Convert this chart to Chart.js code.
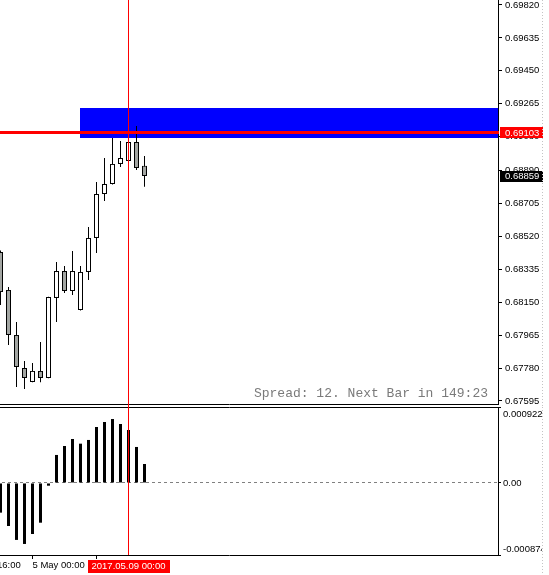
<!DOCTYPE html>
<html>
<head>
<meta charset="utf-8">
<script src="https://cdn.jsdelivr.net/npm/chart.js@4.4.1/dist/chart.umd.min.js"></script>
<style>
    html, body { margin: 0; padding: 0; background: #fff; overflow: hidden; }
    body { width: 549px; height: 575px; position: relative; }
    /* canvases start 40px left of the page so the cut-off time label can be a real tick */
    #priceChart { position: absolute; left: -40px; top: 0; }
    #oscChart { position: absolute; left: -40px; top: 407px; }
</style>
</head>
<body>
<canvas id="priceChart" width="589" height="407"></canvas>
<canvas id="oscChart" width="589" height="168"></canvas>
<script>
// H4 bars, index 0 = first visible bar
const candleIndex = [0, 1, 2, 3, 4, 5, 6, 7, 8, 9, 10, 11, 12, 13, 14, 15, 16, 17, 18];
const openPrices  = [0.68432, 0.68219, 0.67966, 0.67780, 0.67702, 0.67764, 0.67724, 0.68174, 0.68325, 0.68213,
                     0.68106, 0.68320, 0.68511, 0.68758, 0.68814, 0.68927, 0.68944, 0.69050, 0.68916];
const highPrices  = [0.68440, 0.68236, 0.68039, 0.67820, 0.67809, 0.67927, 0.68180, 0.68376, 0.68354, 0.68438,
                     0.68354, 0.68573, 0.68826, 0.68960, 0.69073, 0.69056, 0.69052, 0.69140, 0.68972];
const lowPrices   = [0.68134, 0.67910, 0.67674, 0.67662, 0.67700, 0.67700, 0.67722, 0.68039, 0.68202, 0.68191,
                     0.68104, 0.68275, 0.68427, 0.68719, 0.68812, 0.68910, 0.68942, 0.68893, 0.68798];
const closePrices = [0.68207, 0.67966, 0.67786, 0.67724, 0.67764, 0.67724, 0.68179, 0.68325, 0.68213, 0.68325,
                     0.68320, 0.68511, 0.68758, 0.68814, 0.68927, 0.68960, 0.69050, 0.68904, 0.68859];

// histogram in the lower window
const oscValues = [-0.000360, -0.000522, -0.000691, -0.000740, -0.000619, -0.000482, -0.000033,
                   0.000340, 0.000449, 0.000534, 0.000477, 0.000522, 0.000679, 0.000740, 0.000776,
                   0.000716, 0.000643, 0.000437, 0.000230];

const priceTicks = [0.67595, 0.67780, 0.67965, 0.68150, 0.68335, 0.68520, 0.68705,
                    0.68890, 0.69080, 0.69265, 0.69450, 0.69635, 0.69820];
const oscTicks = [-0.000874, 0, 0.000922];
const oscTickLabels = ['-0.000874', '0.00', '0.000922'];
const timeTickIndex = [-4, 4, 12];
const timeTickLabels = ['3 May 16:00', '5 May 00:00', '8 May 08:00'];

const priceMin = 0.67578, priceMax = 0.69848;
const oscMin = -0.000874, oscMax = 0.000922;
const xMin = -5.0625, xMax = 62.1875;

const zoneStart = 10, zoneHigh = 0.69241, zoneLow = 0.69073;   // blue rectangle
const lineLevel = 0.69103;                                       // red horizontal line
const bidPrice = 0.68859;
const crosshairIndex = 16;
const crosshairLabel = '2017.05.09 00:00';
const infoText = 'Spread: 12. Next Bar in 149:23';

const axisFamily = '"Liberation Sans", Arial, sans-serif';
const axisFont = '9.5px ' + axisFamily;

Chart.defaults.color = '#000';
Chart.defaults.font.family = axisFamily;
Chart.defaults.font.size = 9.5;

function drawDottedEdge(chart) {
    const ctx = chart.ctx;
    const ex = chart.scales.y.left + 44.5;
    ctx.save();
    ctx.strokeStyle = '#c4c4c4';
    ctx.setLineDash([1, 2]);
    ctx.beginPath();
    ctx.moveTo(ex, 0);
    ctx.lineTo(ex, chart.height);
    ctx.stroke();
    ctx.restore();
}

function drawCrosshair(chart, bottom) {
    const ctx = chart.ctx;
    const cx = Math.floor(chart.scales.x.getPixelForValue(crosshairIndex)) + 0.5;
    ctx.save();
    ctx.strokeStyle = '#ff0000';
    ctx.lineWidth = 1;
    ctx.beginPath();
    ctx.moveTo(cx, 0);
    ctx.lineTo(cx, bottom);
    ctx.stroke();
    ctx.restore();
}

function priceBox(chart, value, color) {
    const {ctx, scales: {y}} = chart;
    const py = y.getPixelForValue(value);
    ctx.save();
    ctx.fillStyle = color;
    ctx.fillRect(y.left + 2, Math.round(py - 5.5), 43, 11);
    ctx.fillStyle = '#fff';
    ctx.font = axisFont;
    ctx.textAlign = 'left';
    ctx.textBaseline = 'middle';
    ctx.fillText(value.toFixed(5), y.left + 7, py + 0.5);
    ctx.restore();
}

// 1. Price window
const priceOverlay = {
    id: 'priceOverlay',
    beforeDatasetsDraw(chart) {
        const {ctx, chartArea, scales: {x, y}} = chart;
        const left = Math.floor(x.getPixelForValue(zoneStart));
        const top = Math.round(y.getPixelForValue(zoneHigh));
        const bottom = Math.round(y.getPixelForValue(zoneLow));
        ctx.save();
        ctx.fillStyle = '#0000ff';
        ctx.fillRect(left, top, chartArea.right - left, bottom - top);
        ctx.restore();
    },
    afterDraw(chart) {
        const {ctx, chartArea, scales: {y}} = chart;
        ctx.save();
        // red level line
        ctx.fillStyle = '#ff0000';
        ctx.fillRect(chartArea.left, Math.round(y.getPixelForValue(lineLevel) - 1.5), chartArea.right - chartArea.left + 1, 3);
        // window bottom border
        ctx.strokeStyle = '#000';
        ctx.lineWidth = 1;
        ctx.beginPath();
        ctx.moveTo(chartArea.left, chartArea.bottom + 0.5);
        ctx.lineTo(chartArea.right + 1, chartArea.bottom + 0.5);
        ctx.stroke();
        // spread info
        ctx.font = '13px "Liberation Mono", "Courier New", monospace';
        ctx.fillStyle = '#7a7a7a';
        ctx.textAlign = 'right';
        ctx.textBaseline = 'middle';
        ctx.fillText(infoText, chartArea.right - 10, chartArea.bottom - 10);
        ctx.restore();

        priceBox(chart, lineLevel, '#ff0000');
        priceBox(chart, bidPrice, '#000000');
        drawCrosshair(chart, chart.height);
        drawDottedEdge(chart);
    }
};

new Chart(document.getElementById('priceChart'), {
    type: 'bar',
    data: {
        datasets: [
            {
                label: 'body',
                data: candleIndex.map(i => ({x: i, y: [openPrices[i], closePrices[i]]})),
                backgroundColor: candleIndex.map(i => closePrices[i] >= openPrices[i] ? '#ffffff' : '#a3a6a3'),
                borderColor: '#000',
                borderWidth: 1,
                borderSkipped: false,
                barThickness: 5,
                grouped: false,
                inflateAmount: 0
            },
            {
                label: 'wick',
                data: candleIndex.map(i => ({x: i, y: [lowPrices[i], highPrices[i]]})),
                backgroundColor: '#000',
                borderWidth: 0,
                barThickness: 1,
                grouped: false,
                inflateAmount: 0
            }
        ]
    },
    options: {
        responsive: false,
        animation: false,
        events: [],
        layout: { padding: { left: 0, right: 0, top: 0, bottom: 3 } },
        plugins: { legend: { display: false }, tooltip: { enabled: false } },
        scales: {
            x: {
                type: 'linear',
                display: false,
                offset: false,
                min: xMin,
                max: xMax,
                grid: { offset: false }
            },
            y: {
                type: 'linear',
                position: 'right',
                min: priceMin,
                max: priceMax,
                afterBuildTicks: (scale) => { scale.ticks = priceTicks.map(v => ({value: v})); },
                afterFit: (scale) => { scale.width = 51; scale.paddingTop = 0; scale.paddingBottom = 0; },
                ticks: {
                    autoSkip: false,
                    padding: 3,
                    color: '#000',
                    font: { size: 9.5 },
                    callback: (value) => value.toFixed(5)
                },
                grid: { drawOnChartArea: false, drawTicks: true, tickLength: 4, tickColor: '#000' },
                border: { display: true, color: '#000', width: 1 }
            }
        }
    },
    plugins: [priceOverlay]
});

// 2. Indicator window
const oscOverlay = {
    id: 'oscOverlay',
    afterDraw(chart) {
        const {ctx, chartArea, scales: {x, y}} = chart;
        ctx.save();
        ctx.strokeStyle = '#000';
        ctx.lineWidth = 1;
        ctx.beginPath();
        ctx.moveTo(chartArea.left, chartArea.top + 0.5);
        ctx.lineTo(chartArea.right + 1, chartArea.top + 0.5);
        ctx.stroke();

        // scale labels sit inside the window edges
        ctx.beginPath();
        ctx.rect(y.left, 0, 44, chart.height);
        ctx.clip();
        ctx.font = axisFont;
        ctx.fillStyle = '#000';
        ctx.textAlign = 'left';
        ctx.textBaseline = 'middle';
        oscTicks.forEach((v, i) => {
            let py = y.getPixelForValue(v);
            if (v === oscMax) py += 7;
            if (v === oscMin) py -= 6;
            ctx.fillText(oscTickLabels[i], y.left + 5, py);
        });
        ctx.restore();

        drawCrosshair(chart, chartArea.bottom);

        // time label of the crosshair
        const cx = x.getPixelForValue(crosshairIndex);
        ctx.save();
        ctx.font = axisFont;
        const tw = ctx.measureText(crosshairLabel).width;
        ctx.fillStyle = '#ff0000';
        ctx.fillRect(Math.round(cx - tw / 2 - 4), chartArea.bottom + 5, Math.round(tw + 8), 13);
        ctx.fillStyle = '#fff';
        ctx.textAlign = 'center';
        ctx.textBaseline = 'middle';
        ctx.fillText(crosshairLabel, cx, chartArea.bottom + 11.5);
        ctx.restore();

        drawDottedEdge(chart);
    }
};

new Chart(document.getElementById('oscChart'), {
    type: 'bar',
    data: {
        datasets: [{
            label: 'osc',
            data: oscValues.map((v, i) => ({x: candleIndex[i], y: v})),
            backgroundColor: '#000',
            borderWidth: 0,
            barThickness: 3,
            grouped: false,
            inflateAmount: 0
        }]
    },
    options: {
        responsive: false,
        animation: false,
        events: [],
        layout: { padding: 0 },
        plugins: { legend: { display: false }, tooltip: { enabled: false } },
        scales: {
            x: {
                type: 'linear',
                offset: false,
                min: xMin,
                max: xMax,
                afterBuildTicks: (scale) => { scale.ticks = timeTickIndex.map(v => ({value: v})); },
                afterFit: (scale) => { scale.height = 20; scale.paddingLeft = 0; scale.paddingRight = 0; },
                ticks: {
                    autoSkip: false,
                    maxRotation: 0,
                    minRotation: 0,
                    align: 'start',
                    padding: 1,
                    color: '#000',
                    callback: (value, index) => timeTickLabels[index]
                },
                grid: { offset: false, drawOnChartArea: false, drawTicks: true, tickLength: 4, tickColor: '#000' },
                border: { display: true, color: '#000', width: 1 }
            },
            y: {
                type: 'linear',
                position: 'right',
                min: oscMin,
                max: oscMax,
                afterBuildTicks: (scale) => { scale.ticks = oscTicks.map(v => ({value: v})); },
                afterFit: (scale) => { scale.width = 51; scale.paddingTop = 0; scale.paddingBottom = 0; },
                ticks: { display: false },
                grid: {
                    drawOnChartArea: true,
                    drawTicks: true,
                    tickLength: 3,
                    tickColor: '#000',
                    color: (c) => (c.tick && c.tick.value === 0) ? '#808080' : 'rgba(0,0,0,0)'
                },
                border: { display: true, color: '#000', width: 1, dash: [3, 3] }
            }
        }
    },
    plugins: [oscOverlay]
});
</script>
</body>
</html>
